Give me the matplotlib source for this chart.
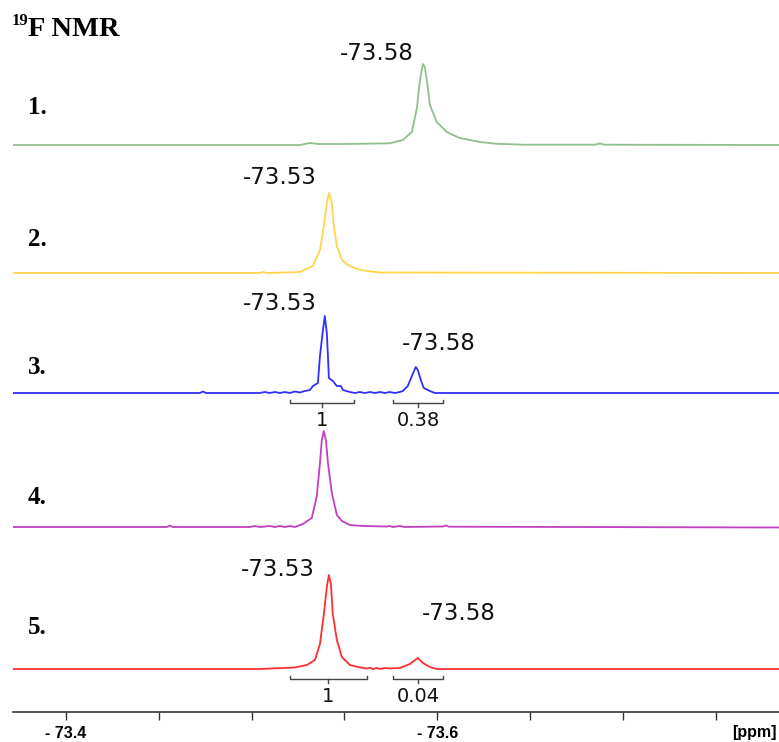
import matplotlib.pyplot as plt

# ---- spectra: chemical shift (ppm) and intensity ----
ppm_1 = [-73.3715, -73.5260, -73.5314, -73.5357, -73.5502, -73.5744, -73.5814,
         -73.5863, -73.5890, -73.5906, -73.5922, -73.5933, -73.5944, -73.5960,
         -73.5997, -73.6051, -73.6121, -73.6229, -73.6320, -73.6471, -73.6848,
         -73.6875, -73.6902, -73.7840]
int_1 = [0, 0, 2, 1, 1, 1.7, 5, 13, 37, 64, 81, 78, 64, 40,
         23, 13, 7, 3, 1.2, 0.3, 0.3, 1.5, 0.3, 0]

ppm_2 = [-73.3715, -73.5044, -73.5060, -73.5082, -73.5260, -73.5330, -73.5368,
         -73.5389, -73.5405, -73.5416, -73.5432, -73.5443, -73.5459, -73.5486,
         -73.5518, -73.5567, -73.5621, -73.5691, -73.7840]
int_2 = [0, 0, 1, 0, 1, 7, 23, 47, 70, 80, 70, 47, 27, 13,
         8, 4, 2, 0.5, 0]

ppm_3 = [-73.3715, -73.4721, -73.4738, -73.4754, -73.5044, -73.5071, -73.5098,
         -73.5125, -73.5152, -73.5179, -73.5206, -73.5233, -73.5260, -73.5287,
         -73.5314, -73.5330, -73.5357, -73.5368, -73.5384, -73.5394, -73.5405,
         -73.5411, -73.5416, -73.5437, -73.5459, -73.5481, -73.5491, -73.5529,
         -73.5556, -73.5583, -73.5610, -73.5637, -73.5664, -73.5691, -73.5718,
         -73.5744, -73.5771, -73.5798, -73.5814, -73.5841, -73.5863, -73.5884,
         -73.5895, -73.5911, -73.5927, -73.5960, -73.5987, -73.7840]
int_3 = [0, 0, 1.5, 0, 0, 1, 0, 1, 0, 1, 0, 1.5, 0.5, 2,
         3, 7, 10, 37, 63, 77, 60, 37, 15, 12, 7, 7, 3, 1,
         0, 1, 0, 1, 0, 1, 0, 1, 0, 1, 2, 7, 17, 26,
         23, 13, 5, 2, 0, 0]

ppm_4 = [-73.3715, -73.4544, -73.4560, -73.4576, -73.4991, -73.5018, -73.5044,
         -73.5098, -73.5125, -73.5152, -73.5179, -73.5206, -73.5233, -73.5276,
         -73.5324, -73.5351, -73.5368, -73.5378, -73.5389, -73.5400, -73.5411,
         -73.5432, -73.5459, -73.5486, -73.5529, -73.5599, -73.5728, -73.5744,
         -73.5761, -73.5798, -73.5825, -73.6030, -73.6046, -73.6062, -73.7840]
int_4 = [0, 0, 1.5, 0, 0, 1, 0, 1, 0, 1, 0, 1, 0, 3,
         9, 31, 64, 87, 96, 87, 64, 34, 12, 6, 2, 1, 0.5, 1,
         0, 1, 0, 0.5, 1.5, 0.3, -0.5]

ppm_5 = [-73.3715, -73.5044, -73.5233, -73.5298, -73.5341, -73.5368, -73.5389,
         -73.5405, -73.5416, -73.5427, -73.5437, -73.5459, -73.5486, -73.5529,
         -73.5583, -73.5621, -73.5637, -73.5653, -73.5674, -73.5691, -73.5718,
         -73.5744, -73.5798, -73.5852, -73.5895, -73.5922, -73.5960, -73.5997,
         -73.7840]
int_5 = [0, 0, 1.5, 4, 9, 25, 55, 82, 94, 85, 55, 29, 12, 4,
         1.5, 0.5, 1.2, 0, 1, 0, 1, 0.5, 1, 5, 11, 6, 2, 0,
         0]

spectra = [(ppm_1, int_1), (ppm_2, int_2), (ppm_3, int_3), (ppm_4, int_4), (ppm_5, int_5)]
trace_names = ['1.', '2.', '3.', '4.', '5.']

# peak labels (text, ppm position of label)
peak_labels = [
    [('-73.58', -73.5674)],
    [('-73.53', -73.5152)],
    [('-73.53', -73.5152), ('-73.58', -73.6008)],
    [],
    [('-73.53', -73.5141), ('-73.58', -73.6116)],
]

# integration regions (ppm start, ppm end, value)
integrals = [
    [],
    [],
    [(-73.5206, -73.5551, '1'), (-73.5761, -73.6030, '0.38')],
    [],
    [(-73.5206, -73.5621, '1'), (-73.5761, -73.6030, '0.04')],
]

tick_ppm = [-73.40, -73.45, -73.50, -73.55, -73.60, -73.65, -73.70, -73.75]
tick_text = ['- 73.4', '', '', '', '- 73.6', '', '', '']

# ---- layout ----
colors = ['#8fbf8c', '#ffd54a', '#2f2fff', '#c23ec2', '#ff2e2e']
baselines = [567, 439, 319, 185, 43]
label_dy = [[91], [95], [90, 50], [], [99, 55]]
name_y = [108, 240, 368, 497, 628]

W, H = 779, 742
fig = plt.figure(figsize=(W / 100, H / 100), dpi=100)
ax = fig.add_axes([13 / W, 30 / H, 766 / W, 672 / H])
ax.set_xlim(-73.3715, -73.784)
ax.set_ylim(0, 672)

for i, (x, y) in enumerate(spectra):
    base = baselines[i]
    ax.plot(x, [v + base for v in y], color=colors[i], lw=1.3, solid_joinstyle='round')
    for (txt, px), dy in zip(peak_labels[i], label_dy[i]):
        ax.text(px, base + dy, txt, ha='center', va='center', fontsize=16.5,
                family='DejaVu Sans', color='#111111')
    for a, b, val in integrals[i]:
        yb = base - 10
        mid = (a + b) / 2
        ax.plot([a, a, b, b], [yb + 3, yb, yb, yb + 3], color='#444444', lw=1)
        ax.plot([mid, mid], [yb, yb - 4], color='#444444', lw=1)
        ax.text(mid, base - 27, val, ha='center', va='center', fontsize=14,
                family='DejaVu Sans', color='#111111')
    fig.text(28 / W, 1 - name_y[i] / H, trace_names[i], ha='left', va='center',
             fontsize=18, family='Liberation Serif', weight='bold')

for s in ['top', 'left', 'right']:
    ax.spines[s].set_visible(False)
ax.spines['bottom'].set_color('#333333')
ax.spines['bottom'].set_linewidth(1.2)
ax.set_yticks([])
ax.set_xticks(tick_ppm)
ax.set_xticklabels(tick_text, fontsize=11.5, family='Liberation Sans', weight='bold')
ax.tick_params(axis='x', direction='out', length=6, width=1, color='#333333', pad=4)

fig.text(777 / W, 1 - 733 / H, '[ppm]', ha='right', va='center', fontsize=11.5,
         family='Liberation Sans', weight='bold')
fig.text(12 / W, 1 - 21 / H, '19', ha='left', va='center', fontsize=12,
         family='Liberation Serif', weight='bold')
fig.text(28 / W, 1 - 29 / H, 'F NMR', ha='left', va='center', fontsize=20.5,
         family='Liberation Serif', weight='bold')

fig.savefig('out.png', dpi=100)
